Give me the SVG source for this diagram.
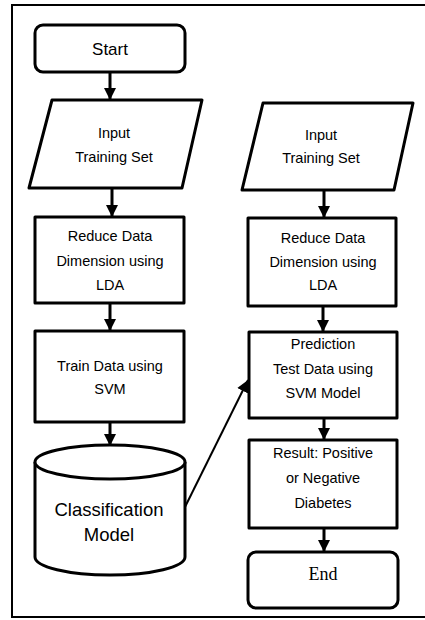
<svg xmlns="http://www.w3.org/2000/svg" width="425" height="620" viewBox="0 0 425 620">
<style>
.shape{fill:#fff;stroke:#000;stroke-width:3;stroke-linejoin:round}
.conn{stroke:#000;stroke-width:3;fill:none}
.diag{stroke:#000;stroke-width:2;fill:none}
.t{font-family:"Liberation Sans",Arial,sans-serif;font-size:14.5px;text-anchor:middle;fill:#000}
.big{font-size:18.5px}
.st{font-size:17px}
.serif{font-family:"Liberation Serif","Times New Roman",serif;font-size:18px;text-anchor:middle;fill:#000}
</style>
<defs>
<marker id="ah" markerUnits="userSpaceOnUse" markerWidth="14" markerHeight="14" viewBox="0 0 14 14" refX="12" refY="7" orient="auto">
<path d="M0,1 L12,7 L0,13 Z" fill="#000"/>
</marker>
</defs>
<rect x="0" y="0" width="425" height="620" fill="#fff"/>
<path d="M427,5 H12 V617 H427" fill="none" stroke="#000" stroke-width="2"/>
<g id="connectors">
<line class="conn" x1="110" y1="72" x2="110" y2="100" marker-end="url(#ah)"/>
<line class="conn" x1="112" y1="188" x2="112" y2="217" marker-end="url(#ah)"/>
<line class="conn" x1="110" y1="303" x2="110" y2="331" marker-end="url(#ah)"/>
<line class="conn" x1="110" y1="422" x2="110" y2="446" marker-end="url(#ah)"/>
<line class="diag" x1="185" y1="507" x2="248" y2="380" marker-end="url(#ah)"/>
<line class="conn" x1="324" y1="190" x2="324" y2="218" marker-end="url(#ah)"/>
<line class="conn" x1="323" y1="306" x2="323" y2="332" marker-end="url(#ah)"/>
<line class="conn" x1="324" y1="418" x2="324" y2="440" marker-end="url(#ah)"/>
<line class="conn" x1="324" y1="528" x2="324" y2="552" marker-end="url(#ah)"/>
</g>
<g id="start">
<rect class="shape" x="35" y="25" width="150" height="47" rx="8"/>
<text class="t st" x="110" y="55">Start</text>
</g>
<g id="input1">
<polygon class="shape" points="52,100 202,100 182,188 29,188"/>
<text class="t" x="114" y="138">Input</text>
<text class="t" x="114" y="162">Training Set</text>
</g>
<g id="reduce1">
<rect class="shape" x="35" y="217" width="149" height="86"/>
<text class="t" x="110" y="241">Reduce Data</text>
<text class="t" x="110" y="266">Dimension using</text>
<text class="t" x="110" y="290">LDA</text>
</g>
<g id="train">
<rect class="shape" x="35" y="331" width="149" height="91"/>
<text class="t" x="110" y="371">Train Data using</text>
<text class="t" x="110" y="394">SVM</text>
</g>
<g id="model">
<path class="shape" d="M35,462 L35,557 A75,18 0 0 0 185,557 L185,462"/>
<ellipse class="shape" cx="110" cy="462" rx="75" ry="17"/>
<text class="t big" x="109" y="516">Classification</text>
<text class="t big" x="109" y="541">Model</text>
</g>
<g id="input2">
<polygon class="shape" points="263,103 413,103 394,190 242,190"/>
<text class="t" x="321" y="140">Input</text>
<text class="t" x="321" y="163">Training Set</text>
</g>
<g id="reduce2">
<rect class="shape" x="248" y="218" width="148" height="88"/>
<text class="t" x="323" y="243">Reduce Data</text>
<text class="t" x="323" y="267">Dimension using</text>
<text class="t" x="323" y="290">LDA</text>
</g>
<g id="predict">
<rect class="shape" x="249" y="332" width="148" height="86"/>
<text class="t" x="323" y="349">Prediction</text>
<text class="t" x="323" y="374">Test Data using</text>
<text class="t" x="323" y="398">SVM Model</text>
</g>
<g id="result">
<rect class="shape" x="249" y="440" width="148" height="88"/>
<text class="t" x="323" y="458">Result: Positive</text>
<text class="t" x="323" y="483">or Negative</text>
<text class="t" x="323" y="508">Diabetes</text>
</g>
<g id="end">
<rect class="shape" x="248" y="552" width="150" height="56" rx="8"/>
<text class="serif" x="323" y="580">End</text>
</g>
</svg>
